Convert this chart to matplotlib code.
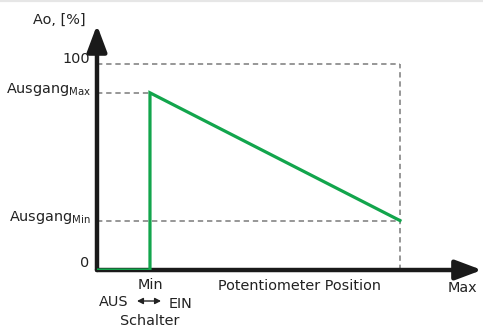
import matplotlib
matplotlib.use("Agg")
from matplotlib import pyplot as plt

# Potentiometer position in % (Min = 0, Max = 100), switch zone left of Min
pos = [-21.2, 0, 0, 100]
# output Ao in %
out = [0, 0, 86, 24]
out_max = 86
out_min = 24
full = 100
pos_max = 100

green = '#12a54c'
grey = '#7a7a7a'

fig = plt.figure(figsize=(4.83, 3.29), dpi=100)
ax = fig.add_axes([0.2008, 0.1793, 0.797, 0.7447])
ax.set_xlim(-21.2, 132.8)
ax.set_ylim(0, 118.9)
ax.axis('off')

# thin light border line at the top of the picture
fig.add_artist(plt.Line2D([0, 1], [0.997, 0.997], color='#e6e6e6', lw=1.6))

# dashed guide lines
dash = dict(color=grey, lw=1.1, ls=(0, (3.5, 2.5)), zorder=1)
ax.plot([pos[0], pos_max], [full, full], **dash)
ax.plot([pos_max, pos_max], [0, full], **dash)
ax.plot([pos[0], 0], [out_max, out_max], **dash)
ax.plot([pos[0], pos_max], [out_min, out_min], **dash)

# characteristic curve
ax.plot(pos, out, color=green, lw=2.3, solid_joinstyle='miter', zorder=3)

# axes with arrows
head = '-|>,head_length=1.6,head_width=0.6'
ax.annotate('', xy=(1.0, 0), xytext=(0, 0), xycoords='axes fraction',
            arrowprops=dict(arrowstyle=head, color='#1a1a1a', lw=3.2,
                            shrinkA=0, shrinkB=0), zorder=2)
ax.annotate('', xy=(0, 1.0), xytext=(0, 0), xycoords='axes fraction',
            arrowprops=dict(arrowstyle=head, color='#1a1a1a', lw=3.2,
                            shrinkA=0, shrinkB=0), zorder=2)

fs = 10.4
tc = '#222222'
fig.text(86 / 483, 1 - 20 / 329, 'Ao, [%]', ha='right', va='center', fontsize=fs, color=tc)
fig.text(90 / 483, 1 - 59 / 329, '100', ha='right', va='center', fontsize=fs, color=tc)
fig.text(91 / 483, 1 - 90 / 329, r'Ausgang$_\mathregular{Max}$', ha='right', va='center',
         fontsize=fs, color=tc)
fig.text(91 / 483, 1 - 217 / 329, r'Ausgang$_\mathregular{Min}$', ha='right', va='center',
         fontsize=fs, color=tc)
fig.text(89 / 483, 1 - 263 / 329, '0', ha='right', va='center', fontsize=fs, color=tc)
fig.text(150 / 483, 1 - 285 / 329, 'Min', ha='center', va='center', fontsize=fs, color=tc)
fig.text(114 / 483, 1 - 302 / 329, 'AUS', ha='center', va='center', fontsize=fs, color=tc)
fig.text(180 / 483, 1 - 304 / 329, 'EIN', ha='center', va='center', fontsize=fs, color=tc)
fig.text(150 / 483, 1 - 321 / 329, 'Schalter', ha='center', va='center', fontsize=fs, color=tc)
fig.text(300 / 483, 1 - 286 / 329, 'Potentiometer Position', ha='center', va='center',
         fontsize=fs, color=tc)
fig.text(462 / 483, 1 - 288 / 329, 'Max', ha='center', va='center', fontsize=fs, color=tc)

# switch arrow between AUS and EIN
ax.annotate('', xy=(161 / 483, 1 - 301 / 329), xytext=(137 / 483, 1 - 301 / 329),
            xycoords='figure fraction', textcoords='figure fraction',
            arrowprops=dict(arrowstyle='<|-|>,head_length=0.35,head_width=0.18',
                            color=tc, lw=1.0, shrinkA=0, shrinkB=0),
            annotation_clip=False)

fig.savefig('out.png', dpi=100)
